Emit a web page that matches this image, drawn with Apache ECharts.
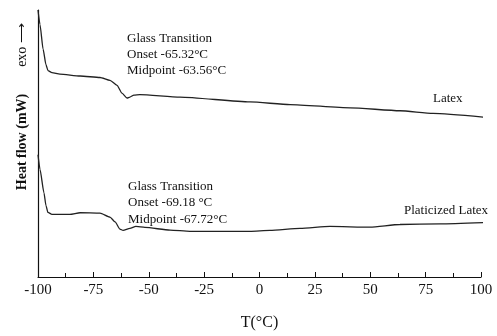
<!DOCTYPE html>
<html>
<head>
<meta charset="utf-8">
<script src="https://cdn.jsdelivr.net/npm/echarts@6/dist/echarts.min.js"></script>
<style>
  html, body { margin: 0; padding: 0; background: #fff; }
  #chart { width: 497px; height: 336px; }
</style>
</head>
<body>
<div id="chart"></div>
<script>
// temperature (°C) and heat flow (arbitrary units, exo up)
const latexT = [-100, -99.1, -97.7, -96.4, -95.5, -93.7, -90.1, -81, -72, -67.5, -64.3, -62.1, -59.8, -58.5, -56.7, -54, -35.9, -4.3, 13.8, 40.9, 63.4, 78.3, 101.8];
const latexHF = [273, 258, 233, 217, 211, 209, 207.5, 205.5, 204, 201, 196, 188, 183, 184, 186, 186.5, 184, 179, 176.3, 173, 170, 167.3, 163.3];

const plastT = [-100, -99.1, -97.3, -96.4, -95.5, -93.7, -85.6, -81, -72, -67.5, -65.2, -63, -61.6, -58.5, -55.8, -51.7, -40.4, -31.4, -4.3, 4.7, 18.3, 31.8, 49.9, 63.4, 81.5, 101.8];
const plastHF = [125, 110, 86, 73, 66, 64, 64, 65.7, 65.3, 61.3, 56.3, 49, 47.7, 49.7, 51.7, 50.7, 48, 46.7, 46.7, 47.7, 49.7, 51.7, 51, 53.7, 54.3, 55.7];

const xTicks = [-100, -75, -50, -25, 0, 25, 50, 75, 100];

const latexNote = ['Glass Transition', 'Onset -65.32°C', 'Midpoint -63.56°C'];
const plastNote = ['Glass Transition', 'Onset -69.18 °C', 'Midpoint -67.72°C'];

const serif = '"Liberation Serif", "Times New Roman", serif';

const chart = echarts.init(document.getElementById('chart'));

function pairs(xs, ys) {
  return xs.map((x, i) => [x, ys[i]]);
}

const option = {
  animation: false,
  grid: { left: 38, right: 16, top: 10, bottom: 53 },
  xAxis: {
    type: 'value',
    min: -100,
    max: 100,
    interval: 25,
    name: 'T(°C)',
    nameLocation: 'middle',
    nameGap: 38,
    nameTextStyle: { fontFamily: serif, fontSize: 16, color: '#111' },
    axisLine: { onZero: false, lineStyle: { color: '#111', width: 1.2 } },
    axisTick: { inside: true, length: 5, lineStyle: { color: '#111' } },
    minorTick: { show: true, splitNumber: 2, length: 4, lineStyle: { color: '#111' } },
    splitLine: { show: false },
    axisLabel: {
      color: '#111', fontFamily: serif, fontSize: 15, margin: 6,
      formatter: v => xTicks.includes(v) ? String(v) : ''
    }
  },
  yAxis: {
    type: 'value',
    min: 0,
    max: 273,
    axisLine: { show: true, onZero: false, lineStyle: { color: '#111', width: 1.2 } },
    axisTick: { show: false },
    axisLabel: { show: false },
    splitLine: { show: false }
  },
  series: [
    {
      name: 'Latex',
      type: 'line',
      data: pairs(latexT, latexHF),
      showSymbol: false,
      smooth: 0.2,
      smoothMonotone: 'x',
      clip: false,
      lineStyle: { color: '#222', width: 1.3 }
    },
    {
      name: 'Platicized Latex',
      type: 'line',
      data: pairs(plastT, plastHF),
      showSymbol: false,
      smooth: 0.2,
      smoothMonotone: 'x',
      clip: false,
      lineStyle: { color: '#222', width: 1.3 }
    }
  ],
  graphic: [
    {
      type: 'text', left: 127, top: 31,
      style: { text: latexNote.join('\n'), font: '13px ' + serif, lineHeight: 16, fill: '#111' }
    },
    {
      type: 'text', left: 128, top: 178,
      style: { text: plastNote.join('\n'), font: '13px ' + serif, lineHeight: 16.5, fill: '#111' }
    },
    {
      type: 'text', left: 433, top: 92,
      style: { text: 'Latex', font: '13px ' + serif, fill: '#111' }
    },
    {
      type: 'text', left: 404, top: 204,
      style: { text: 'Platicized Latex', font: '13px ' + serif, fill: '#111' }
    },
    {
      type: 'text', x: 22, y: 142, rotation: Math.PI / 2,
      style: { text: 'Heat flow (mW)', font: 'bold 14px ' + serif, fill: '#111', align: 'center', verticalAlign: 'middle' }
    },
    {
      type: 'text', x: 22, y: 45, rotation: Math.PI / 2,
      style: { text: 'exo ⟶', font: '14px ' + serif, fill: '#111', align: 'center', verticalAlign: 'middle' }
    }
  ]
};

chart.setOption(option);
</script>
</body>
</html>
